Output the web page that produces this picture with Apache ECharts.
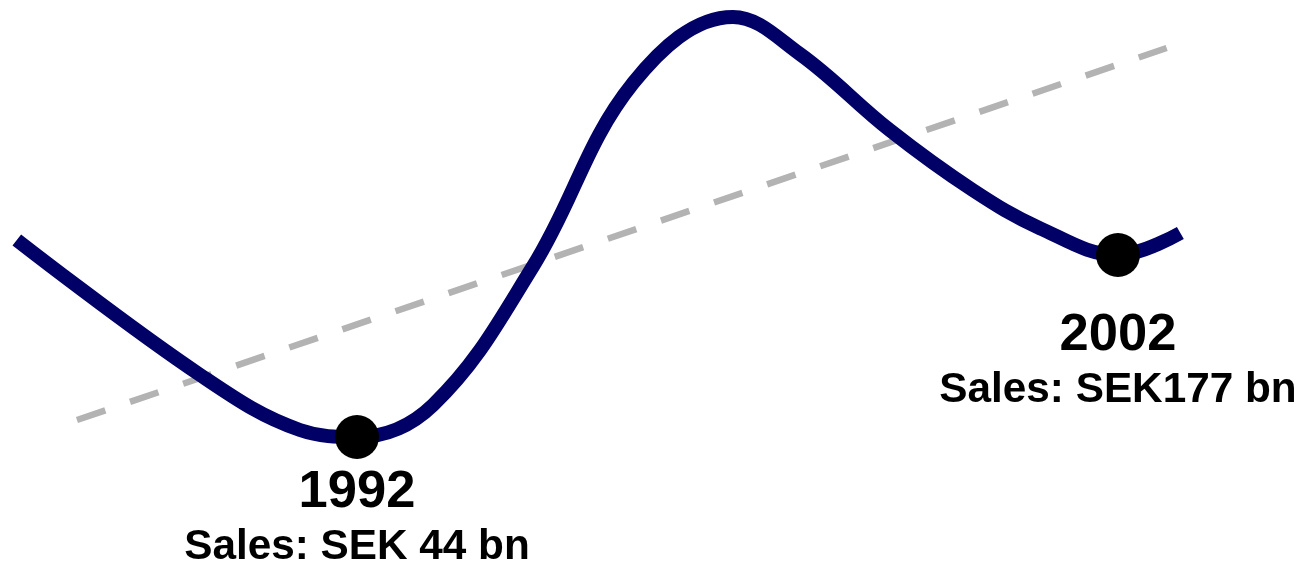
<!DOCTYPE html>
<html>
<head>
<meta charset="utf-8">
<script src="https://cdn.jsdelivr.net/npm/echarts@6/dist/echarts.min.js"></script>
<style>
  html, body { margin: 0; padding: 0; background: #ffffff; }
  #chart { width: 1306px; height: 567px; }
</style>
</head>
<body>
<div id="chart"></div>
<script>
// Sales curve (year, SEK bn)
const curveYears = [1987.53, 1989.94, 1991.25, 1992, 1993.0, 1994.31, 1995.63,
  1996.94, 1997.82, 1999.0, 2000.09, 2000.97, 2002, 2002.82];
const curveSales = [188, 89.3, 49.1, 44, 67.4, 168.4, 302.7,
  351, 323.9, 268.3, 224.5, 196.7, 177, 193.1];

// Trend line end points
const trendYears = [1988.32, 2002.64];
const trendSales = [56.4, 328.3];

// Highlighted years
const markYears = [1992, 2002];
const markSales = [44, 177];
const markYearLabels = ['1992', '2002'];
const markSalesLabels = ['Sales: SEK 44 bn', 'Sales: SEK177 bn'];
const markLabelGaps = [6, 31];

const chart = echarts.init(document.getElementById('chart'), null, { renderer: 'canvas' });

const FONT = '"Liberation Sans", Arial, sans-serif';

const option = {
  animation: false,
  backgroundColor: '#ffffff',
  grid: { left: 0, right: 0, top: 4.58, bottom: 69.8, containLabel: false },
  xAxis: {
    type: 'value',
    min: 1987.309,
    max: 2004.471,
    show: false
  },
  yAxis: {
    type: 'value',
    min: 0,
    max: 360,
    show: false
  },
  series: [
    {
      type: 'line',
      name: 'trend',
      data: trendYears.map((y, i) => [y, trendSales[i]]),
      symbol: 'none',
      lineStyle: { color: '#b3b3b3', width: 6.5, type: [30, 26.1], cap: 'butt', opacity: 1 },
      z: 1,
      silent: true
    },
    {
      type: 'line',
      name: 'sales',
      data: curveYears.map((y, i) => [y, curveSales[i]]),
      smooth: 0.38,
      symbol: 'none',
      lineStyle: { color: '#000066', width: 14, cap: 'butt', opacity: 1 },
      z: 2,
      silent: true
    },
    {
      type: 'scatter',
      name: 'marks',
      symbol: 'circle',
      symbolSize: 44,
      itemStyle: { color: '#000000', opacity: 1 },
      z: 3,
      data: markYears.map((y, i) => ({
        value: [y, markSales[i]],
        label: {
          show: true,
          position: 'bottom',
          distance: markLabelGaps[i],
          align: 'center',
          color: '#000000',
          opacity: 1,
          formatter: '{y|' + markYearLabels[i] + '}\n{s|' + markSalesLabels[i] + '}',
          rich: {
            y: { fontFamily: FONT, fontWeight: 'bold', fontSize: 52.5, lineHeight: 55, color: '#000000', align: 'center' },
            s: { fontFamily: FONT, fontWeight: 'bold', fontSize: 42.3, lineHeight: 55, color: '#000000', align: 'center' }
          }
        }
      }))
    }
  ]
};

chart.setOption(option);
</script>
</body>
</html>
